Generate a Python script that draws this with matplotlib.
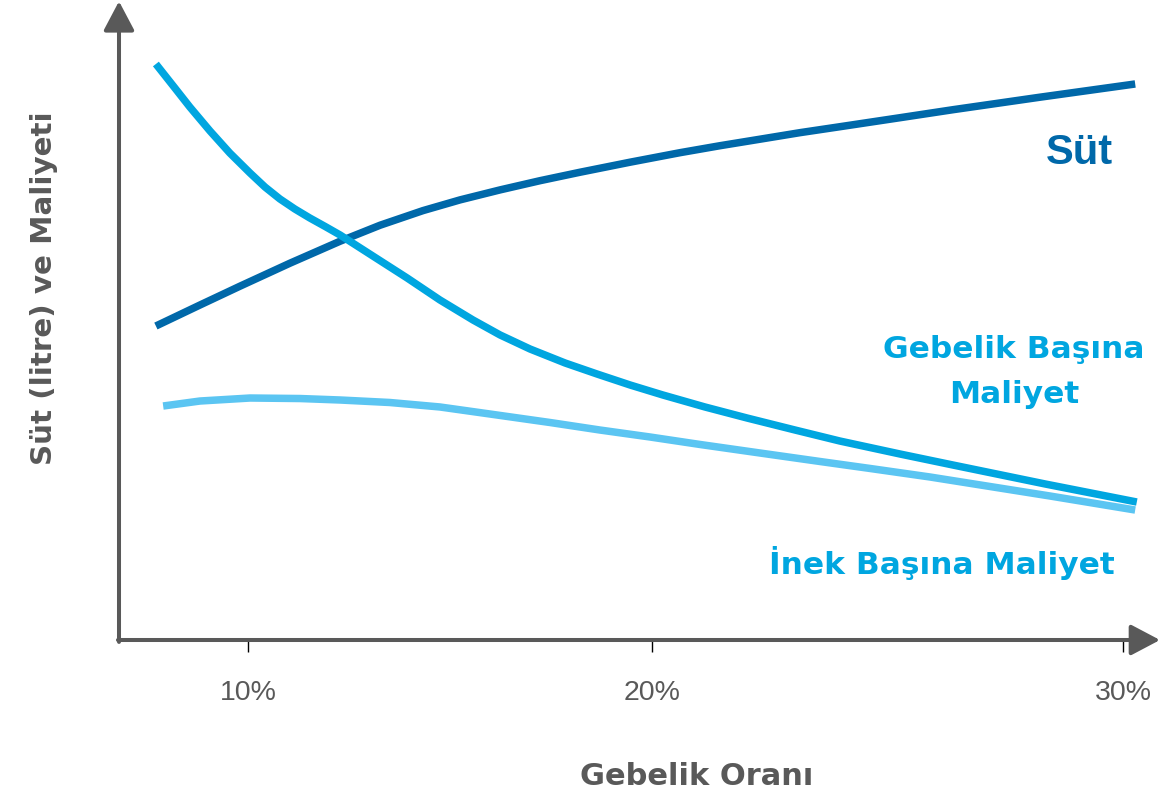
import matplotlib
matplotlib.use('Agg')
import matplotlib.pyplot as plt

# Gebelik orani (%) ekseni ve keyfi birimli y degerleri
sut_x = [7.72, 8.81, 9.80, 11.04, 12.28, 13.27, 14.33, 15.25, 16.24, 17.23, 18.22,
         19.46, 20.69, 21.68, 22.75, 23.66, 24.65, 26.14, 27.45, 29.60, 31.96]
sut_y = [49.06, 52.34, 55.28, 58.88, 62.31, 64.81, 67.09, 68.77, 70.33, 71.77, 73.09,
         74.66, 76.14, 77.23, 78.33, 79.27, 80.2, 81.61, 82.86, 84.81, 86.88]

gebelik_x = [7.72, 8.19, 8.56, 9.06, 9.55, 10.05, 10.42, 10.79, 11.16, 11.53, 11.91,
             12.28, 13.09, 13.94, 14.75, 15.57, 16.24, 16.98, 17.85, 18.64, 19.46,
             20.27, 21.31, 22.35, 23.54, 24.65, 26.14, 27.45, 29.73, 32.0]
gebelik_y = [90.0, 86.25, 83.28, 79.53, 76.09, 72.97, 70.78, 68.91, 67.34, 65.94, 64.61,
             63.28, 60.0, 56.56, 53.13, 50.0, 47.66, 45.47, 43.28, 41.56, 39.84,
             38.28, 36.41, 34.69, 32.81, 31.09, 29.06, 27.34, 24.38, 21.56]

inek_x = [7.90, 8.81, 10.05, 11.29, 12.28, 13.51, 14.75, 15.99, 17.48, 18.71,
          19.95, 21.19, 22.67, 24.16, 25.40, 26.88, 28.29, 29.85, 31.96]
inek_y = [36.56, 37.34, 37.81, 37.73, 37.5, 37.11, 36.41, 35.31, 33.98, 32.81,
          31.72, 30.55, 29.22, 27.89, 26.80, 25.47, 24.06, 22.5, 20.31]

tick_pos = [10, 20, 31.66]
tick_labels = ['10%', '20%', '30%']

gray = '#595959'
c_sut = '#0068A9'
c_gebelik = '#00A6E0'
c_inek = '#5BC5F2'

fig = plt.figure(figsize=(11.6, 7.95), dpi=100)
ax = fig.add_axes([119 / 1160, 155 / 795, 1041 / 1160, 640 / 795])
ax.set_xlim(6.807, 32.574)
ax.set_ylim(0, 100)

lw = 5.4
ax.plot(sut_x, sut_y, color=c_sut, lw=lw, solid_capstyle='butt',
        solid_joinstyle='round', zorder=3)
ax.plot(gebelik_x, gebelik_y, color=c_gebelik, lw=lw, solid_capstyle='butt',
        solid_joinstyle='round', zorder=3)
ax.plot(inek_x, inek_y, color=c_inek, lw=lw, solid_capstyle='butt',
        solid_joinstyle='round', zorder=2)

for s in ax.spines.values():
    s.set_visible(False)

# axis arrows
arrow_kw = dict(arrowstyle='-|>,head_length=1.8,head_width=0.95',
                mutation_scale=10, lw=2.9, color=gray,
                shrinkA=0, shrinkB=0)
ax.annotate('', xy=(0, 0.998), xytext=(0, -0.003), xycoords='axes fraction',
            arrowprops=arrow_kw, annotation_clip=False)
ax.annotate('', xy=(1.0, 0), xytext=(-0.001, 0), xycoords='axes fraction',
            arrowprops=arrow_kw, annotation_clip=False)

ax.set_yticks([])
ax.set_xticks(tick_pos)
ax.set_xticklabels(tick_labels, family='Liberation Sans', fontsize=20.5, color=gray)
ax.tick_params(axis='x', direction='out', length=8.6, width=1.0,
               color='black', pad=20)

# series labels
ax.text(30.59, 74.4, 'Süt', family='Liberation Sans', fontweight='bold',
        fontsize=30, color=c_sut, ha='center', va='baseline')
ax.text(28.96, 44.06, 'Gebelik Başına', family='DejaVu Sans', fontweight='bold',
        fontsize=22.5, color=c_gebelik, ha='center', va='baseline')
ax.text(28.96, 37.03, 'Maliyet', family='DejaVu Sans', fontweight='bold',
        fontsize=22.5, color=c_gebelik, ha='center', va='baseline')
ax.text(27.18, 10.31, 'İnek Başına Maliyet', family='DejaVu Sans', fontweight='bold',
        fontsize=22.5, color=c_gebelik, ha='center', va='baseline')

# axis titles
fig.text(697 / 1160, 10 / 795, 'Gebelik Oranı', family='DejaVu Sans',
         fontweight='bold', fontsize=22, color=gray, ha='center', va='baseline')
fig.text(52 / 1160, 1 - 288.5 / 795, 'Süt (litre) ve Maliyeti', family='DejaVu Sans',
         fontweight='bold', fontsize=21.2, color=gray, rotation=90,
         rotation_mode='anchor', ha='center', va='baseline')

fig.savefig('out.png', dpi=100)
